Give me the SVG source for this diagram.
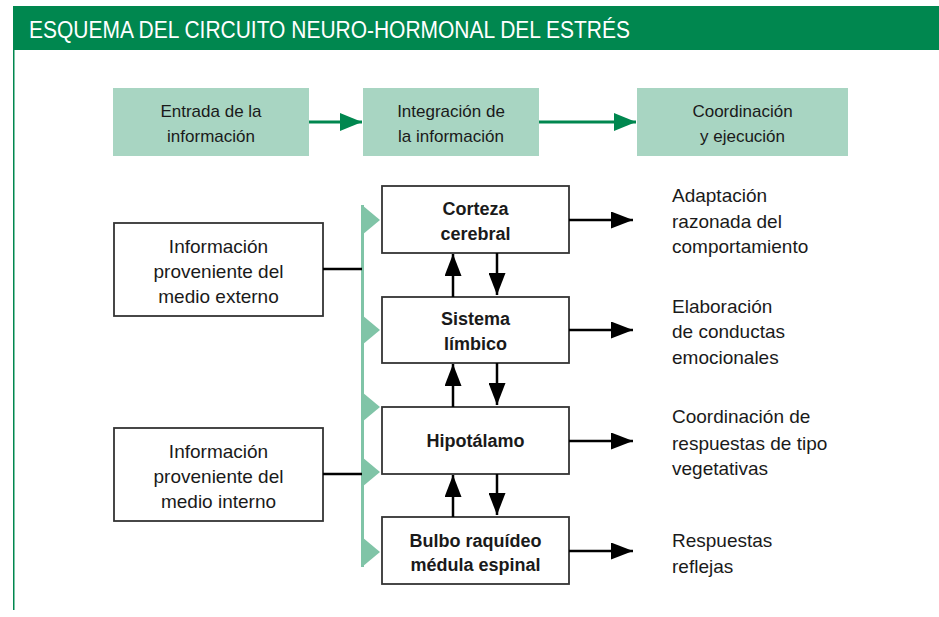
<svg xmlns="http://www.w3.org/2000/svg" width="939" height="617" viewBox="0 0 939 617">
<style>
  .t { font-family: "Liberation Sans", Arial, sans-serif; fill: #1a1a1a; }
  .top { font-size: 17px; text-anchor: middle; }
  .side { font-size: 19px; text-anchor: middle; }
  .out { font-size: 19px; }
  .bold { font-size: 18px; font-weight: bold; text-anchor: middle; }
  .topbox { fill: #a8d5c2; }
  .box { fill: #ffffff; stroke: #333333; stroke-width: 1.8; }
  .blk { stroke: #000000; stroke-width: 2.5; fill: none; }
  .grn { stroke: #00874f; stroke-width: 3; fill: none; }
  .tri { fill: #80c4a7; }
</style>
<defs>
  <marker id="ah" viewBox="0 0 22 17" refX="22" refY="8.5" markerWidth="22" markerHeight="17" markerUnits="userSpaceOnUse" orient="auto">
    <path d="M0,0 L22,8.5 L0,17 z" fill="#000000"/>
  </marker>
  <marker id="ag" viewBox="0 0 22 18" refX="22" refY="9" markerWidth="22" markerHeight="18" markerUnits="userSpaceOnUse" orient="auto">
    <path d="M0,0 L22,9 L0,18 z" fill="#00874f"/>
  </marker>
</defs>

<g id="header">
  <rect x="13" y="6" width="926" height="44" fill="#00874f"/>
  <line x1="13.75" y1="50" x2="13.75" y2="610" stroke="#00874f" stroke-width="1.5"/>
  <text x="29" y="38" font-family="Liberation Sans, Arial, sans-serif" font-size="23.5" fill="#ffffff" textLength="601" lengthAdjust="spacingAndGlyphs">ESQUEMA DEL CIRCUITO NEURO-HORMONAL DEL ESTRÉS</text>
</g>

<g id="stage-entrada">
  <rect class="topbox" x="113" y="88" width="196" height="68"/>
  <text class="t top" x="211" y="117">Entrada de la</text>
  <text class="t top" x="211" y="142">información</text>
</g>
<g id="stage-integracion">
  <rect class="topbox" x="363" y="88" width="176" height="68"/>
  <text class="t top" x="451" y="117">Integración de</text>
  <text class="t top" x="451" y="142">la información</text>
</g>
<g id="stage-coordinacion">
  <rect class="topbox" x="637" y="88" width="211" height="68"/>
  <text class="t top" x="742.5" y="117">Coordinación</text>
  <text class="t top" x="742.5" y="142">y ejecución</text>
</g>

<g id="info-externo">
  <rect class="box" x="114" y="223" width="209" height="93"/>
  <text class="t side" x="218.5" y="253">Información</text>
  <text class="t side" x="218.5" y="278">proveniente del</text>
  <text class="t side" x="218.5" y="303">medio externo</text>
</g>
<g id="info-interno">
  <rect class="box" x="114" y="428" width="209" height="93"/>
  <text class="t side" x="218.5" y="458">Información</text>
  <text class="t side" x="218.5" y="483">proveniente del</text>
  <text class="t side" x="218.5" y="508">medio interno</text>
</g>

<g id="bus">
  <rect x="361" y="205" width="3" height="362" fill="#80c4a7"/>
  <polygon class="tri" points="362,205 380,220 362,235"/>
  <polygon class="tri" points="362,315 380,330 362,345"/>
  <polygon class="tri" points="362,392 380,407 362,422"/>
  <polygon class="tri" points="362,457 380,472 362,487"/>
  <polygon class="tri" points="362,537 380,552 362,567"/>
</g>

<g id="corteza">
  <rect class="box" x="382" y="186" width="187" height="67"/>
  <text class="t bold" x="475.5" y="215">Corteza</text>
  <text class="t bold" x="475.5" y="240">cerebral</text>
</g>
<g id="limbico">
  <rect class="box" x="382" y="297" width="187" height="66"/>
  <text class="t bold" x="475.5" y="325">Sistema</text>
  <text class="t bold" x="475.5" y="350">límbico</text>
</g>
<g id="hipotalamo">
  <rect class="box" x="382" y="407" width="187" height="67"/>
  <text class="t bold" x="475.5" y="447">Hipotálamo</text>
</g>
<g id="bulbo">
  <rect class="box" x="382" y="517" width="187" height="67"/>
  <text class="t bold" x="475.5" y="547">Bulbo raquídeo</text>
  <text class="t bold" x="475.5" y="571">médula espinal</text>
</g>

<g id="out-texts">
  <text class="t out" x="672" y="202">Adaptación</text>
  <text class="t out" x="672" y="228">razonada del</text>
  <text class="t out" x="672" y="253">comportamiento</text>
  <text class="t out" x="672" y="313">Elaboración</text>
  <text class="t out" x="672" y="338">de conductas</text>
  <text class="t out" x="672" y="364">emocionales</text>
  <text class="t out" x="672" y="423">Coordinación de</text>
  <text class="t out" x="672" y="450">respuestas de tipo</text>
  <text class="t out" x="672" y="475">vegetativas</text>
  <text class="t out" x="672" y="547">Respuestas</text>
  <text class="t out" x="672" y="573">reflejas</text>
</g>

<g id="connectors">
  <line class="grn" x1="309" y1="122" x2="362" y2="122" marker-end="url(#ag)"/>
  <line class="grn" x1="539" y1="122" x2="636" y2="122" marker-end="url(#ag)"/>
  <line class="blk" x1="323" y1="269" x2="362" y2="269"/>
  <line class="blk" x1="323" y1="474" x2="362" y2="474"/>
  <line class="blk" x1="453" y1="297" x2="453" y2="254" marker-end="url(#ah)"/>
  <line class="blk" x1="497" y1="253" x2="497" y2="295" marker-end="url(#ah)"/>
  <line class="blk" x1="453" y1="407" x2="453" y2="364" marker-end="url(#ah)"/>
  <line class="blk" x1="497" y1="363" x2="497" y2="405" marker-end="url(#ah)"/>
  <line class="blk" x1="453" y1="517" x2="453" y2="475" marker-end="url(#ah)"/>
  <line class="blk" x1="497" y1="474" x2="497" y2="515" marker-end="url(#ah)"/>
  <line class="blk" x1="569" y1="220" x2="633" y2="220" marker-end="url(#ah)"/>
  <line class="blk" x1="569" y1="330" x2="633" y2="330" marker-end="url(#ah)"/>
  <line class="blk" x1="569" y1="441" x2="633" y2="441" marker-end="url(#ah)"/>
  <line class="blk" x1="569" y1="551" x2="633" y2="551" marker-end="url(#ah)"/>
</g>
</svg>
